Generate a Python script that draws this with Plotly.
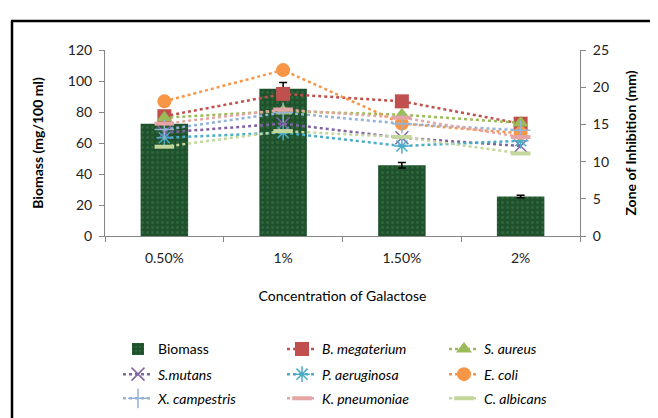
import plotly.graph_objects as go

categories = ["0.50%", "1%", "1.50%", "2%"]
biomass = [72.5, 95.0, 45.6, 25.5]
biomass_err = [0.6, 4.0, 1.8, 0.8]

b_megaterium = [16.1, 19.1, 18.1, 15.1]
s_aureus = [15.9, 16.8, 16.3, 15.2]
s_mutans = [13.9, 15.1, 13.2, 12.1]
p_aeruginosa = [13.2, 13.9, 12.1, 12.8]
e_coli = [18.1, 22.3, 15.1, 13.8]
x_campestris = [14.3, 16.6, 15.1, 14.2]
k_pneumoniae = [15.1, 17.0, 15.9, 13.3]
c_albicans = [12.0, 14.1, 13.3, 11.1]

FONT = "Lato"

fig = go.Figure()

fig.add_trace(go.Bar(
    x=categories, y=biomass, name="Biomass", width=0.4,
    marker=dict(color="#1e512c", line=dict(width=0),
                pattern=dict(shape=".", fgcolor="#3f7d4c", size=5, solidity=0.25)),
    error_y=dict(type="data", array=biomass_err, color="black", thickness=1.5, width=4),
    legend="legend",
))

series = [
    ("<i>B. megaterium</i>", b_megaterium, "#C0504D", dict(symbol="square", size=14), "legend2"),
    ("<i>S. aureus</i>", s_aureus, "#9BBB59", dict(symbol="triangle-up", size=14), "legend3"),
    ("<i>S.mutans</i>", s_mutans, "#8064A2", dict(symbol="x-thin-open", size=13, line=dict(width=1.5, color="#8064A2")), "legend4"),
    ("<i>P. aeruginosa</i>", p_aeruginosa, "#4BACC6", dict(symbol="asterisk-open", size=13, line=dict(width=1.5, color="#4BACC6")), "legend5"),
    ("<i>E. coli</i>", e_coli, "#F79646", dict(symbol="circle", size=14), "legend6"),
    ("<i>X. campestris</i>", x_campestris, "#95B3D7", dict(symbol="cross-thin-open", size=14, line=dict(width=1.5, color="#95B3D7")), "legend7"),
    ("<i>K. pneumoniae</i>", k_pneumoniae, "#E6A5A5", dict(symbol="line-ew-open", size=14, line=dict(width=4, color="#E6A5A5")), "legend8"),
    ("<i>C. albicans</i>", c_albicans, "#C3D69B", dict(symbol="line-ew-open", size=14, line=dict(width=4, color="#C3D69B")), "legend9"),
]

for name, vals, col, mk, lg in series:
    mk = dict(mk)
    mk.setdefault("color", col)
    fig.add_trace(go.Scatter(
        x=categories, y=vals, name=name, yaxis="y2", mode="lines+markers",
        line=dict(color=col, width=2.5, dash="dot"), marker=mk, legend=lg,
    ))

W, H = 658, 418
L, R, T, B = 97, 86, 42, 184
pw, ph = W - L - R, H - T - B

def px_x(px):
    return (px - L) / pw

def px_y(py):
    return (H - B - py) / ph

col_x = [110, 274, 436]
row_y = [351, 377, 402]
legend_map = [
    ("legend", 0, 0), ("legend2", 1, 0), ("legend3", 2, 0),
    ("legend4", 0, 1), ("legend5", 1, 1), ("legend6", 2, 1),
    ("legend7", 0, 2), ("legend8", 1, 2), ("legend9", 2, 2),
]
legend_layout = {}
for key, c, r in legend_map:
    legend_layout[key] = dict(
        x=px_x(col_x[c]), y=px_y(row_y[r]), xanchor="left", yanchor="middle",
        orientation="v", bgcolor="rgba(0,0,0,0)", borderwidth=0,
        font=dict(family=FONT, size=14, color="black"), tracegroupgap=0,
    )

axis_font = dict(family=FONT, size=14, color="#222222")

fig.update_layout(
    width=W, height=H,
    margin=dict(l=L, r=R, t=T, b=B, pad=0),
    paper_bgcolor="white", plot_bgcolor="white",
    showlegend=True,
    bargap=0.6,
    xaxis=dict(
        showline=True, linecolor="#868686", linewidth=1,
        ticks="outside", tickson="boundaries", ticklen=5, tickcolor="#868686",
        tickfont=axis_font, showgrid=False, ticklabelstandoff=9,
        title=dict(text="Concentration of Galactose", font=dict(family=FONT, size=14, color="black"), standoff=26),
    ),
    yaxis=dict(
        range=[0, 120], dtick=20, showline=True, linecolor="#868686", linewidth=1,
        ticks="outside", ticklen=5, tickcolor="#868686", tickfont=axis_font,
        showgrid=False, zeroline=False, ticklabelstandoff=4,
        title=dict(text="<b>Biomass (mg/100 ml)</b>", font=dict(family=FONT, size=14, color="black"), standoff=20),
    ),
    yaxis2=dict(
        range=[0, 25], dtick=5, overlaying="y", side="right",
        showline=True, linecolor="#868686", linewidth=1,
        ticks="outside", ticklen=5, tickcolor="#868686", tickfont=axis_font,
        showgrid=False, zeroline=False, ticklabelstandoff=4,
        title=dict(text="<b>Zone of Inhibition (mm)</b>", font=dict(family=FONT, size=14, color="black"), standoff=18),
    ),
    shapes=[
        dict(type="line", xref="paper", yref="paper", x0=px_x(4), x1=px_x(4),
             y0=px_y(430), y1=px_y(12), line=dict(color="black", width=2.5)),
        dict(type="line", xref="paper", yref="paper", x0=px_x(3), x1=px_x(670),
             y0=px_y(12), y1=px_y(12), line=dict(color="black", width=2.5)),
    ],
    **legend_layout,
)

fig.write_html("out.html")
